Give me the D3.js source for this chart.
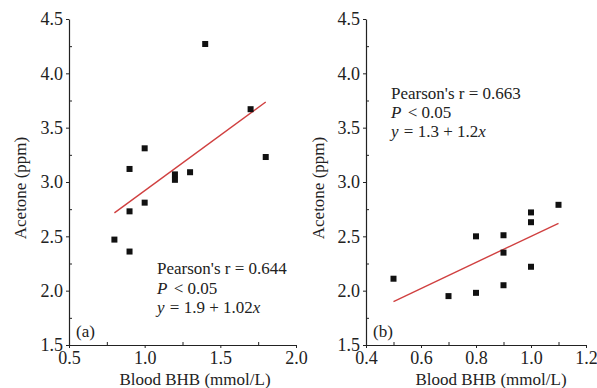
<!DOCTYPE html>
<html>
<head>
<meta charset="utf-8">
<script src="https://cdn.jsdelivr.net/npm/d3@7"></script>
<style>
  body { margin: 0; background: #fff; }
  text { font-family: "Liberation Serif", "DejaVu Serif", serif; fill: #222; }
  .domain, .tick line { stroke: #222; }
</style>
</head>
<body>
<div id="chart"></div>
<script>
// data
var aBhb = [0.8, 0.9, 0.9, 0.9, 1.0, 1.0, 1.2, 1.2, 1.3, 1.4, 1.7, 1.8];
var aAcetone = [2.47, 2.36, 2.73, 3.12, 2.81, 3.31, 3.07, 3.02, 3.09, 4.27, 3.67, 3.23];
var bBhb = [0.5, 0.7, 0.8, 0.8, 0.9, 0.9, 0.9, 1.0, 1.0, 1.0, 1.1];
var bAcetone = [2.11, 1.95, 2.50, 1.98, 2.51, 2.35, 2.05, 2.72, 2.63, 2.22, 2.79];

// fitted lines: intercept, slope, x range
var aFit = [1.9, 1.02, 0.8, 1.8];
var bFit = [1.3, 1.2, 0.5, 1.1];

var aXTicks = [0.5, 1.0, 1.5, 2.0];
var bXTicks = [0.4, 0.6, 0.8, 1.0, 1.2];
var yTicks = [1.5, 2.0, 2.5, 3.0, 3.5, 4.0, 4.5];

var aNotes = ["Pearson's r = 0.644", "P < 0.05", "y = 1.9 + 1.02x"];
var bNotes = ["Pearson's r = 0.663", "P < 0.05", "y = 1.3 + 1.2x"];

var svgWidth = 597;
var svgHeight = 388;

var svg = d3
.select("#chart")
.append("svg")
.attr("width", svgWidth)
.attr("height", svgHeight);

function drawPanel(p) {
    var g = svg.append("g");

    var x = d3.scaleLinear().domain(p.xDomain).range([p.left, p.right]);
    var y = d3.scaleLinear().domain([1.5, 4.5]).range([p.bottom, p.top]);

    // minor ticks point inward
    var xMinor = d3.range(p.xTicks.length - 1).map(i => (p.xTicks[i] + p.xTicks[i + 1]) / 2);
    var yMinor = d3.range(yTicks.length - 1).map(i => (yTicks[i] + yTicks[i + 1]) / 2);

    g.append("g")
        .attr("transform", `translate(0, ${p.bottom})`)
        .call(d3.axisTop(x).tickValues(xMinor).tickSize(3).tickFormat(""))
        .select(".domain").remove();
    g.append("g")
        .attr("transform", `translate(${p.left}, 0)`)
        .call(d3.axisRight(y).tickValues(yMinor).tickSize(3).tickFormat(""))
        .select(".domain").remove();

    // major axes
    var xAxis = g.append("g")
        .attr("transform", `translate(0, ${p.bottom})`)
        .call(d3.axisBottom(x).tickValues(p.xTicks).tickSize(3).tickSizeOuter(0).tickPadding(3)
            .tickFormat(d3.format(".1f")));
    xAxis.selectAll("text").attr("font-size", 18).attr("fill", "#222");

    var yAxis = g.append("g")
        .attr("transform", `translate(${p.left}, 0)`)
        .call(d3.axisLeft(y).tickValues(yTicks).tickSize(3).tickSizeOuter(0).tickPadding(3)
            .tickFormat(d3.format(".1f")));
    yAxis.selectAll("text").attr("font-size", 18).attr("fill", "#222");
    g.selectAll(".domain").attr("stroke-width", 1.2);

    // fit line
    g.append("line")
        .attr("x1", x(p.fit[2]))
        .attr("y1", y(p.fit[0] + p.fit[1] * p.fit[2]))
        .attr("x2", x(p.fit[3]))
        .attr("y2", y(p.fit[0] + p.fit[1] * p.fit[3]))
        .attr("stroke", "#d04040")
        .attr("stroke-width", 1.4);

    // points
    g.selectAll("rect.pt")
        .data(p.xs)
        .enter()
        .append("rect")
        .attr("class", "pt")
        .attr("x", (d, i) => x(d) - 3)
        .attr("y", (d, i) => y(p.ys[i]) - 3)
        .attr("width", 6)
        .attr("height", 6)
        .attr("fill", "#111");

    // axis titles (bottom edge is clipped in the original too)
    g.append("text")
        .attr("x", p.xTitleX)
        .attr("y", 385)
        .attr("text-anchor", "middle")
        .attr("font-size", 17)
        .text("Blood BHB (mmol/L)");

    g.append("text")
        .attr("transform", `translate(${p.yTitleX}, 188) rotate(-90)`)
        .attr("text-anchor", "middle")
        .attr("font-size", 17)
        .text("Acetone (ppm)");

    // panel label
    g.append("text")
        .attr("x", p.left + 7)
        .attr("y", 337)
        .attr("font-size", 17)
        .text(p.label);

    // statistics
    var notes = g.append("text").attr("font-size", 17);
    notes.append("tspan").attr("x", p.noteX).attr("y", p.noteY[0]).text(p.notes[0]);
    var l2 = notes.append("tspan").attr("x", p.noteX).attr("y", p.noteY[1]);
    l2.append("tspan").attr("font-style", "italic").text("P");
    l2.append("tspan").attr("dx", 2).text(p.notes[1].slice(1));
    var l3 = notes.append("tspan").attr("x", p.noteX).attr("y", p.noteY[2]);
    l3.append("tspan").attr("font-style", "italic").text("y");
    l3.append("tspan").attr("dx", 1).text(p.notes[2].slice(1, -1));
    l3.append("tspan").attr("font-style", "italic").text("x");
}

drawPanel({
    xs: aBhb, ys: aAcetone, fit: aFit, xTicks: aXTicks, xDomain: [0.5, 2.0],
    left: 69, right: 296, top: 19, bottom: 345,
    xTitleX: 195, yTitleX: 26, label: "(a)",
    notes: aNotes, noteX: 157, noteY: [274, 294, 313]
});

drawPanel({
    xs: bBhb, ys: bAcetone, fit: bFit, xTicks: bXTicks, xDomain: [0.4, 1.2],
    left: 366, right: 586, top: 19, bottom: 345,
    xTitleX: 491, yTitleX: 324, label: "(b)",
    notes: bNotes, noteX: 391, noteY: [99, 118, 137]
});
</script>
</body>
</html>
